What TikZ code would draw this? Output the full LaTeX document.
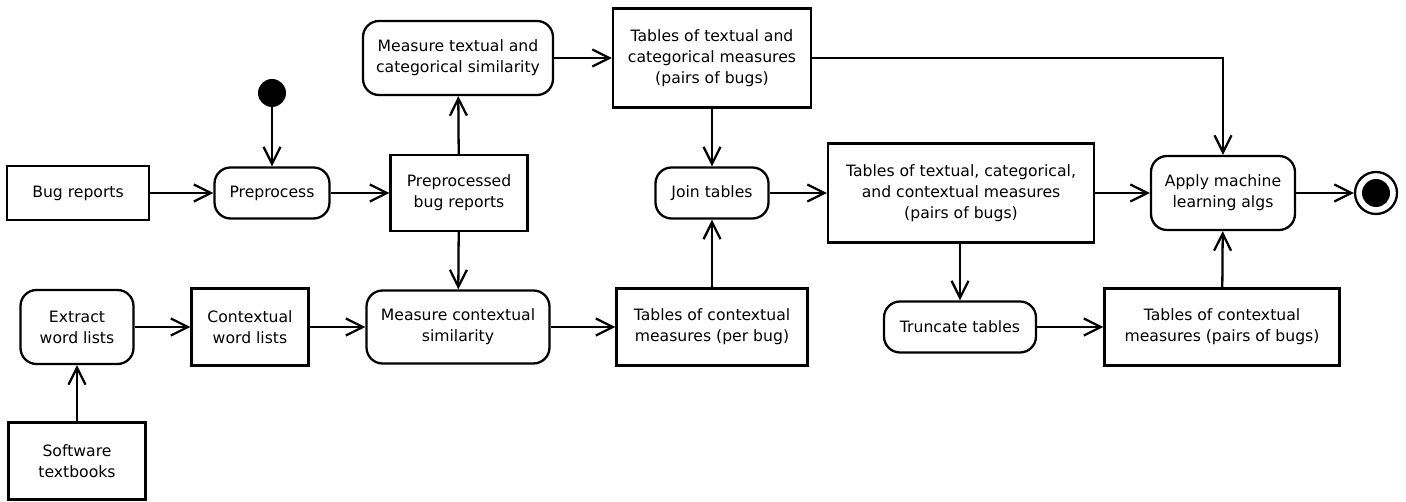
\documentclass[tikz,border=0pt]{standalone}
\usepackage{fontspec}
\setmainfont{DejaVu Sans}
\usepackage{tikz}
\usetikzlibrary{arrows.meta}

\tikzset{
  flow/.style={line width=1.3pt, -{Straight Barb[length=3.4mm, width=3.4mm, line width=1.3pt]}},
  databox/.style={draw, line width=1.3pt, rectangle, align=center, inner sep=0pt,
    font=\fontsize{8.9}{12}\selectfont},
  actbox/.style={databox, rounded corners=0.32cm},
}

\begin{document}
\begin{tikzpicture}[x=0.02cm, y=-0.02cm]
  % Page frame
  \useasboundingbox (0,0) rectangle (1406,502);

  % Data (plain boxes)
  \node[databox, minimum width=2.84cm, minimum height=1.08cm] (bugs) at (78,193) {Bug reports};
  \node[databox, minimum width=2.74cm, minimum height=1.52cm] (prepbugs) at (459,193) {Preprocessed\\bug reports};
  \node[databox, minimum width=2.34cm, minimum height=1.54cm] (ctxwords) at (250,327) {Contextual\\word lists};
  \node[databox, minimum width=2.74cm, minimum height=1.54cm] (books) at (77,461) {Software\\textbooks};
  \node[databox, minimum width=3.82cm, minimum height=1.54cm] (tabctx) at (712,327) {Tables of contextual\\measures (per bug)};
  \node[databox, minimum width=3.96cm, minimum height=1.98cm] (tabtc) at (712,58) {Tables of textual and\\categorical measures\\(pairs of bugs)};
  \node[databox, minimum width=5.32cm, minimum height=1.98cm] (tabtcc) at (961,193) {Tables of textual, categorical,\\and contextual measures\\(pairs of bugs)};
  \node[databox, minimum width=4.70cm, minimum height=1.54cm] (tabpairs) at (1222,327) {Tables of contextual\\measures (pairs of bugs)};

  % Activities (rounded boxes)
  \node[actbox, minimum width=2.30cm, minimum height=1.02cm] (prep) at (272,193) {Preprocess};
  \node[actbox, minimum width=3.80cm, minimum height=1.48cm] (meastc) at (458,58) {Measure textual and\\categorical similarity};
  \node[actbox, minimum width=2.26cm, minimum height=1.48cm] (extract) at (77,327) {Extract\\word lists};
  \node[actbox, minimum width=3.66cm, minimum height=1.46cm] (measctx) at (458,327) {Measure contextual\\similarity};
  \node[actbox, minimum width=2.26cm, minimum height=1.02cm] (join) at (712,193) {Join tables};
  \node[actbox, minimum width=3.04cm, minimum height=1.02cm] (trunc) at (960,327) {Truncate tables};
  \node[actbox, minimum width=2.88cm, minimum height=1.48cm] (apply) at (1223,193) {Apply machine\\learning algs};

  % Start and end
  \node[circle, fill, inner sep=0pt, minimum size=0.56cm] (start) at (272,93) {};
  \node[circle, draw, line width=1.3pt, inner sep=0pt, minimum size=0.84cm] (stop) at (1376,193) {};
  \node[circle, fill, inner sep=0pt, minimum size=0.56cm] (stopdot) at (stop.center) {};

  % Connectors
  \draw[flow] (start) -- (prep);
  \draw[flow] (bugs) -- (prep);
  \draw[flow] (prep) -- (prepbugs);
  \draw[flow] (prepbugs) -- (meastc);
  \draw[flow] (prepbugs) -- (measctx);
  \draw[flow] (meastc) -- (tabtc);
  \draw[flow] (tabtc) -- (join);
  \draw[flow] (tabtc.east) -| (apply.north);
  \draw[flow] (books) -- (extract);
  \draw[flow] (extract) -- (ctxwords);
  \draw[flow] (ctxwords) -- (measctx);
  \draw[flow] (measctx) -- (tabctx);
  \draw[flow] (tabctx) -- (join);
  \draw[flow] (join) -- (tabtcc);
  \draw[flow] (tabtcc.south -| trunc.north) -- (trunc);
  \draw[flow] (tabtcc) -- (apply);
  \draw[flow] (trunc) -- (tabpairs);
  \draw[flow] (tabpairs) -- (apply);
  \draw[flow] (apply) -- (stop);
\end{tikzpicture}
\end{document}
